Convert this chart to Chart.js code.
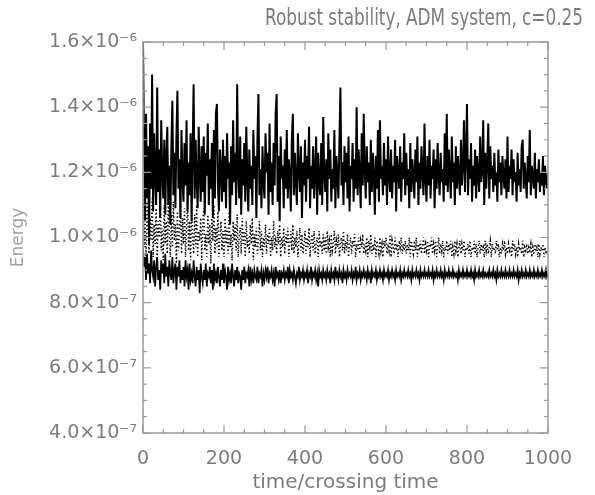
<!DOCTYPE html>
<html>
<head>
<meta charset="utf-8">
<script src="https://cdn.jsdelivr.net/npm/chart.js@4.4.1/dist/chart.umd.min.js"></script>
<style>
  html, body { margin: 0; padding: 0; background: #fff; }
  #wrap { position: relative; width: 595px; height: 495px; }
</style>
</head>
<body>
<div id="wrap"><canvas id="c" width="595" height="495"></canvas></div>
<script>
// ---- data (values in units of 1e-6) ----
const CHART_TITLE = 'Robust stability, ADM system, c=0.25';
const X_TITLE = 'time/crossing time';
const Y_TITLE = 'Energy';
const T_STEP = 2.5; // time/crossing time between samples
const X_TICKS = [0, 200, 400, 600, 800, 1000];
const Y_TICKS = [0.4, 0.6, 0.8, 1.0, 1.2, 1.4, 1.6];
const Y_TICK_LABELS = ['4.0×10⁻⁷', '6.0×10⁻⁷', '8.0×10⁻⁷', '1.0×10⁻⁶', '1.2×10⁻⁶', '1.4×10⁻⁶', '1.6×10⁻⁶'];

// upper solid series
const SERIES_TOP = [
  1.60, 1.30, 1.05, 1.38, 1.12, 1.28, 0.98, 1.35, 1.15, 1.50, 1.08, 1.32, 1.18, 1.10, 1.46, 1.14, 1.27, 1.06, 1.36, 1.20,
  1.12, 1.30, 1.07, 1.25, 1.34, 1.10, 1.22, 1.04, 1.28, 1.42, 1.13, 1.26, 1.09, 1.31, 1.45, 1.15, 1.24, 1.06, 1.33, 1.18,
  1.11, 1.29, 1.16, 1.36, 1.08, 1.23, 1.13, 1.32, 1.05, 1.27, 1.47, 1.12, 1.30, 1.17, 1.09, 1.34, 1.20, 1.11, 1.28, 1.14,
  1.31, 1.07, 1.26, 1.19, 1.35, 1.10, 1.24, 1.15, 1.29, 1.06, 1.33, 1.12, 1.38, 1.41, 1.16, 1.08, 1.27, 1.21, 1.11, 1.30,
  1.14, 1.25, 1.09, 1.32, 1.18, 1.23, 1.04, 1.28, 1.13, 1.36, 1.17, 1.26, 1.10, 1.47, 1.20, 1.12, 1.31, 1.07, 1.24, 1.16,
  1.29, 1.11, 1.34, 1.19, 1.08, 1.27, 1.15, 1.22, 1.10, 1.33, 1.18, 1.25, 1.06, 1.30, 1.44, 1.13, 1.21, 1.09, 1.28, 1.17,
  1.12, 1.32, 1.20, 1.26, 1.07, 1.35, 1.14, 1.23, 1.10, 1.29, 1.16, 1.38, 1.44, 1.11, 1.25, 1.05, 1.31, 1.18, 1.22, 1.09,
  1.27, 1.15, 1.33, 1.12, 1.24, 1.19, 1.08, 1.30, 1.38, 1.13, 1.26, 1.17, 1.10, 1.32, 1.21, 1.14, 1.28, 1.06, 1.23, 1.16,
  1.30, 1.11, 1.25, 1.18, 1.34, 1.09, 1.22, 1.15, 1.28, 1.12, 1.20, 1.31, 1.07, 1.26, 1.17, 1.13, 1.29, 1.10, 1.37, 1.19,
  1.14, 1.24, 1.08, 1.32, 1.18, 1.27, 1.11, 1.21, 1.15, 1.33, 1.09, 1.25, 1.19, 1.12, 1.30, 1.46, 1.16, 1.23, 1.10, 1.28,
  1.17, 1.26, 1.12, 1.31, 1.08, 1.22, 1.18, 1.29, 1.11, 1.24, 1.15, 1.40, 1.13, 1.27, 1.20, 1.09, 1.32, 1.16, 1.38, 1.21,
  1.12, 1.28, 1.17, 1.23, 1.10, 1.30, 1.14, 1.26, 1.19, 1.07, 1.25, 1.15, 1.33, 1.11, 1.36, 1.18, 1.22, 1.13, 1.29, 1.16,
  1.24, 1.10, 1.31, 1.19, 1.14, 1.27, 1.12, 1.22, 1.17, 1.30, 1.08, 1.25, 1.20, 1.15, 1.28, 1.11, 1.23, 1.18, 1.32, 1.13,
  1.26, 1.16, 1.21, 1.09, 1.29, 1.14, 1.24, 1.19, 1.12, 1.27, 1.17, 1.31, 1.10, 1.23, 1.15, 1.28, 1.20, 1.13, 1.35, 1.18,
  1.11, 1.25, 1.16, 1.30, 1.12, 1.22, 1.18, 1.27, 1.09, 1.24, 1.15, 1.29, 1.19, 1.13, 1.26, 1.17, 1.21, 1.11, 1.32, 1.16,
  1.38, 1.14, 1.27, 1.20, 1.12, 1.31, 1.17, 1.23, 1.10, 1.28, 1.15, 1.25, 1.19, 1.13, 1.30, 1.16, 1.22, 1.36, 1.14, 1.26,
  1.41, 1.13, 1.24, 1.18, 1.29, 1.11, 1.22, 1.16, 1.27, 1.12, 1.25, 1.19, 1.14, 1.31, 1.17, 1.21, 1.36, 1.10, 1.26, 1.15,
  1.23, 1.35, 1.12, 1.28, 1.18, 1.22, 1.14, 1.26, 1.16, 1.20, 1.11, 1.27, 1.17, 1.23, 1.13, 1.25, 1.19, 1.15, 1.24, 1.12,
  1.31, 1.14, 1.22, 1.18, 1.27, 1.13, 1.24, 1.17, 1.20, 1.11, 1.26, 1.16, 1.21, 1.14, 1.28, 1.30, 1.15, 1.23, 1.18, 1.12,
  1.25, 1.17, 1.33, 1.13, 1.22, 1.19, 1.15, 1.26, 1.12, 1.21, 1.17, 1.24, 1.14, 1.20, 1.16, 1.25, 1.13, 1.22, 1.18, 1.15,
  1.20
];

// middle dotted series
const SERIES_MID = [
  1.14, 0.97, 1.08, 0.93, 1.11, 1.02, 0.95, 1.06, 0.99, 1.12, 0.94, 1.04, 0.98, 1.09, 0.92, 1.05, 1.00, 1.13, 0.96, 1.03,
  0.93, 1.10, 0.98, 1.05, 0.95, 1.12, 1.01, 0.94, 1.07, 0.97, 1.11, 0.99, 1.04, 0.92, 1.08, 0.96, 1.02, 1.10, 0.95, 1.06,
  0.98, 1.09, 0.94, 1.03, 1.11, 0.96, 1.05, 0.93, 1.08, 1.00, 0.95, 1.07, 0.97, 1.10, 0.94, 1.02, 0.99, 1.06, 0.93, 1.04,
  1.09, 0.96, 1.01, 0.94, 1.07, 0.98, 1.04, 0.92, 1.06, 0.99, 1.10, 0.95, 1.03, 0.97, 1.08, 0.94, 1.00, 1.05, 0.96, 1.02,
  0.94, 1.06, 0.98, 1.03, 0.95, 1.08, 0.97, 1.01, 0.93, 1.05, 0.99, 1.04, 0.96, 1.07, 0.94, 1.00, 1.03, 0.95, 1.06, 0.98,
  1.02, 0.94, 1.05, 0.97, 1.00, 0.95, 1.04, 0.98, 1.06, 0.93, 1.01, 0.97, 1.03, 0.95, 0.99, 1.05, 0.96, 1.02, 0.94, 1.00,
  0.97, 1.04, 0.95, 1.01, 0.98, 1.03, 0.94, 1.00, 0.96, 1.05, 0.97, 0.99, 0.95, 1.02, 0.98, 1.04, 0.94, 1.00, 0.97, 1.03,
  0.95, 1.01, 0.98, 1.03, 0.94, 0.99, 1.02, 0.96, 1.04, 0.95, 1.00, 0.97, 1.02, 0.94, 0.99, 1.03, 0.96, 1.01, 0.95, 0.98,
  1.02, 0.95, 1.00, 0.97, 1.03, 0.94, 0.99, 1.01, 0.96, 1.02, 0.95, 0.98, 1.00, 0.94, 1.02, 0.97, 0.99, 0.95, 1.01, 0.96,
  1.00, 0.95, 1.02, 0.97, 0.99, 0.94, 1.01, 0.96, 0.98, 1.02, 0.95, 0.99, 0.97, 1.01, 0.94, 0.98, 1.00, 0.96, 1.02, 0.95,
  0.99, 0.96, 1.01, 0.94, 0.98, 1.00, 0.95, 0.99, 0.97, 1.01, 0.94, 0.98, 0.96, 1.00, 0.95, 0.99, 0.97, 1.01, 0.95, 0.98,
  0.96, 1.00, 0.94, 0.99, 0.97, 1.01, 0.95, 0.98, 0.96, 1.00, 0.94, 0.99, 0.97, 0.95, 1.00, 0.96, 0.98, 0.94, 0.99, 0.97,
  1.00, 0.95, 0.98, 0.96, 1.01, 0.94, 0.99, 0.97, 0.95, 1.00, 0.96, 0.98, 0.94, 0.99, 0.97, 1.00, 0.95, 0.98, 0.96, 0.99,
  0.95, 0.98, 0.96, 1.00, 0.94, 0.99, 0.97, 0.95, 0.99, 0.96, 1.00, 0.94, 0.98, 0.96, 0.99, 0.95, 0.97, 1.00, 0.95, 0.98,
  0.96, 0.99, 0.94, 0.98, 0.97, 1.00, 0.95, 0.98, 0.96, 0.99, 0.94, 0.97, 1.00, 0.95, 0.98, 0.96, 0.99, 0.94, 0.97, 0.96,
  0.99, 0.95, 0.98, 0.96, 0.99, 0.94, 0.97, 0.95, 0.99, 0.96, 0.98, 0.94, 0.97, 0.99, 0.95, 0.98, 0.96, 0.99, 0.94, 0.97,
  0.96, 0.98, 0.95, 0.99, 0.94, 0.97, 0.96, 0.99, 0.95, 0.98, 0.94, 0.97, 0.99, 0.95, 0.98, 0.96, 0.97, 0.94, 0.99, 0.96,
  0.98, 0.95, 0.97, 0.99, 0.94, 0.98, 0.96, 0.97, 0.95, 0.99, 0.96, 0.98, 0.94, 0.97, 0.95, 0.98, 0.96, 0.99, 0.95, 0.97,
  0.95, 0.98, 0.96, 0.97, 0.94, 0.99, 0.96, 0.98, 0.95, 0.97, 0.94, 0.98, 0.96, 0.97, 0.95, 0.99, 0.94, 0.97, 0.96, 0.98,
  0.95, 0.97, 0.96, 0.98, 0.94, 0.97, 0.95, 0.98, 0.96, 0.97, 0.94, 0.98, 0.95, 0.97, 0.96, 0.98, 0.94, 0.97, 0.95, 0.96,
  0.96
];

// lower solid series
const SERIES_LOW = [
  0.97, 0.91, 0.94, 0.87, 0.95, 0.89, 0.92, 0.86, 0.96, 0.90, 0.88, 0.93, 0.85, 0.91, 0.94, 0.87, 0.90, 0.84, 0.93, 0.89,
  0.92, 0.86, 0.95, 0.88, 0.91, 0.85, 0.93, 0.89, 0.87, 0.94, 0.86, 0.90, 0.92, 0.84, 0.91, 0.88, 0.93, 0.86, 0.90, 0.87,
  0.91, 0.85, 0.93, 0.88, 0.90, 0.84, 0.92, 0.87, 0.89, 0.86, 0.93, 0.88, 0.85, 0.91, 0.87, 0.90, 0.83, 0.92, 0.88, 0.86,
  0.90, 0.87, 0.92, 0.85, 0.89, 0.88, 0.91, 0.86, 0.90, 0.84, 0.92, 0.87, 0.89, 0.86, 0.91, 0.88, 0.85, 0.90, 0.87, 0.92,
  0.86, 0.90, 0.88, 0.84, 0.91, 0.87, 0.89, 0.86, 0.92, 0.88, 0.85, 0.90, 0.87, 0.91, 0.86, 0.89, 0.88, 0.84, 0.90, 0.87,
  0.91, 0.86, 0.89, 0.88, 0.90, 0.85, 0.91, 0.87, 0.89, 0.86, 0.90, 0.88, 0.87, 0.91, 0.86, 0.89, 0.88, 0.90, 0.85, 0.89,
  0.87, 0.90, 0.88, 0.91, 0.86, 0.89, 0.88, 0.90, 0.87, 0.89, 0.85, 0.91, 0.88, 0.89, 0.87, 0.90, 0.86, 0.89, 0.88, 0.90,
  0.87, 0.89, 0.88, 0.91, 0.86, 0.90, 0.88, 0.89, 0.87, 0.90, 0.88, 0.86, 0.89, 0.88, 0.91, 0.87, 0.89, 0.88, 0.90, 0.87,
  0.89, 0.88, 0.90, 0.86, 0.89, 0.88, 0.91, 0.87, 0.89, 0.88, 0.90, 0.87, 0.89, 0.85, 0.90, 0.88, 0.89, 0.87, 0.90, 0.88,
  0.89, 0.87, 0.90, 0.88, 0.89, 0.86, 0.90, 0.88, 0.89, 0.87, 0.91, 0.88, 0.89, 0.87, 0.90, 0.88, 0.89, 0.86, 0.90, 0.88,
  0.89, 0.87, 0.90, 0.88, 0.89, 0.88, 0.90, 0.87, 0.89, 0.88, 0.91, 0.87, 0.89, 0.88, 0.90, 0.87, 0.89, 0.88, 0.90, 0.88,
  0.89, 0.87, 0.90, 0.88, 0.89, 0.86, 0.90, 0.88, 0.89, 0.88, 0.90, 0.87, 0.89, 0.88, 0.90, 0.88, 0.89, 0.87, 0.90, 0.88,
  0.89, 0.88, 0.90, 0.87, 0.89, 0.88, 0.90, 0.88, 0.89, 0.87, 0.90, 0.88, 0.89, 0.88, 0.90, 0.87, 0.89, 0.88, 0.90, 0.88,
  0.89, 0.88, 0.90, 0.88, 0.89, 0.87, 0.90, 0.88, 0.89, 0.88, 0.90, 0.88, 0.89, 0.87, 0.90, 0.88, 0.89, 0.88, 0.90, 0.88,
  0.89, 0.88, 0.90, 0.88, 0.89, 0.88, 0.90, 0.87, 0.89, 0.88, 0.90, 0.88, 0.89, 0.88, 0.90, 0.88, 0.89, 0.87, 0.90, 0.88,
  0.89, 0.88, 0.90, 0.88, 0.89, 0.88, 0.90, 0.88, 0.89, 0.88, 0.89, 0.87, 0.90, 0.88, 0.89, 0.88, 0.90, 0.88, 0.89, 0.88,
  0.90, 0.88, 0.89, 0.88, 0.90, 0.88, 0.89, 0.87, 0.90, 0.88, 0.89, 0.88, 0.90, 0.88, 0.89, 0.88, 0.90, 0.88, 0.89, 0.88,
  0.89, 0.88, 0.90, 0.88, 0.89, 0.88, 0.90, 0.88, 0.89, 0.87, 0.90, 0.88, 0.89, 0.88, 0.90, 0.88, 0.89, 0.88, 0.90, 0.88,
  0.89, 0.88, 0.90, 0.88, 0.89, 0.88, 0.90, 0.88, 0.89, 0.88, 0.90, 0.87, 0.89, 0.88, 0.90, 0.88, 0.89, 0.88, 0.90, 0.88,
  0.89, 0.88, 0.90, 0.88, 0.89, 0.88, 0.90, 0.88, 0.89, 0.88, 0.90, 0.88, 0.89, 0.88, 0.90, 0.88, 0.89, 0.88, 0.90, 0.88,
  0.89
];

// ---- styling ----
const FONT = "'DejaVu Sans', 'Liberation Sans', sans-serif";
const TEXT_COLOR = '#7c7c7c';
const FRAME_COLOR = '#9a9a9a';

const toPoints = arr => arr.map((v, i) => ({ x: i * T_STEP, y: v }));

const framePlugin = {
  id: 'idlFrame',
  afterDatasetsDraw(chart) {
    const { ctx, chartArea: a, scales: { x, y } } = chart;
    ctx.save();
    ctx.strokeStyle = FRAME_COLOR;
    ctx.lineWidth = 1.5;
    ctx.strokeRect(a.left, a.top, a.right - a.left, a.bottom - a.top);
    ctx.lineWidth = 1.2;
    ctx.beginPath();
    for (let t = X_TICKS[0]; t <= X_TICKS[X_TICKS.length - 1] + 1e-9; t += 50) {
      const px = x.getPixelForValue(t);
      const len = X_TICKS.includes(t) ? 8 : 4;
      ctx.moveTo(px, a.bottom); ctx.lineTo(px, a.bottom - len);
      ctx.moveTo(px, a.top); ctx.lineTo(px, a.top + len);
    }
    for (let k = 0; k <= 24; k++) {
      const v = Y_TICKS[0] + k * 0.05;
      const py = y.getPixelForValue(v);
      const len = (k % 4 === 0) ? 8 : 4;
      ctx.moveTo(a.left, py); ctx.lineTo(a.left + len, py);
      ctx.moveTo(a.right, py); ctx.lineTo(a.right - len, py);
    }
    ctx.stroke();
    ctx.restore();
  },
  afterDraw(chart) {
    const { ctx } = chart;
    ctx.save();
    ctx.fillStyle = TEXT_COLOR;
    const size = 23;
    ctx.font = size + 'px ' + FONT;
    const w = ctx.measureText(CHART_TITLE).width;
    const sx = 318 / w;
    ctx.translate(583, 19);
    ctx.scale(sx, 1);
    ctx.textAlign = 'right';
    ctx.textBaseline = 'middle';
    ctx.fillText(CHART_TITLE, 0, 0);
    ctx.restore();
  }
};

new Chart(document.getElementById('c'), {
  type: 'line',
  data: {
    datasets: [
      { data: toPoints(SERIES_TOP), borderColor: '#000', borderWidth: 2 },
      { data: toPoints(SERIES_MID), borderColor: '#000', borderWidth: 1.5, borderDash: [1.3, 2.4] },
      { data: toPoints(SERIES_LOW), borderColor: '#000', borderWidth: 1.7 }
    ]
  },
  options: {
    responsive: false,
    animation: false,
    devicePixelRatio: 1,
    elements: { point: { radius: 0 }, line: { tension: 0 } },
    layout: { padding: { left: 0, right: 47, top: 42, bottom: 0 } },
    plugins: { legend: { display: false }, tooltip: { enabled: false }, title: { display: false } },
    scales: {
      x: {
        type: 'linear',
        min: X_TICKS[0], max: X_TICKS[X_TICKS.length - 1],
        afterFit: s => { s.height = 62; },
        afterBuildTicks: s => { s.ticks = X_TICKS.map(v => ({ value: v })); },
        grid: { display: false, drawTicks: false },
        border: { display: false },
        ticks: { autoSkip: false, maxRotation: 0, padding: 15, color: TEXT_COLOR, font: { family: FONT, size: 19 },
                 callback: v => String(v) },
        title: { display: true, text: X_TITLE, color: TEXT_COLOR, font: { family: FONT, size: 20 }, padding: { top: 0, bottom: 0 } }
      },
      y: {
        min: Y_TICKS[0], max: Y_TICKS[Y_TICKS.length - 1],
        afterFit: s => { s.width = 143; },
        afterBuildTicks: s => { s.ticks = Y_TICKS.map(v => ({ value: v })); },
        grid: { display: false, drawTicks: false },
        border: { display: false },
        ticks: {
          autoSkip: false, padding: 6, color: TEXT_COLOR, font: { family: FONT, size: 19 },
          callback: (v) => { const i = Y_TICKS.findIndex(t => Math.abs(t - v) < 1e-6); return i >= 0 ? Y_TICK_LABELS[i] : ''; }
        },
        title: { display: true, text: Y_TITLE, color: '#a0a0a0', font: { family: FONT, size: 17 }, padding: { top: 8, bottom: 0 } }
      }
    }
  },
  plugins: [framePlugin]
});
</script>
</body>
</html>
